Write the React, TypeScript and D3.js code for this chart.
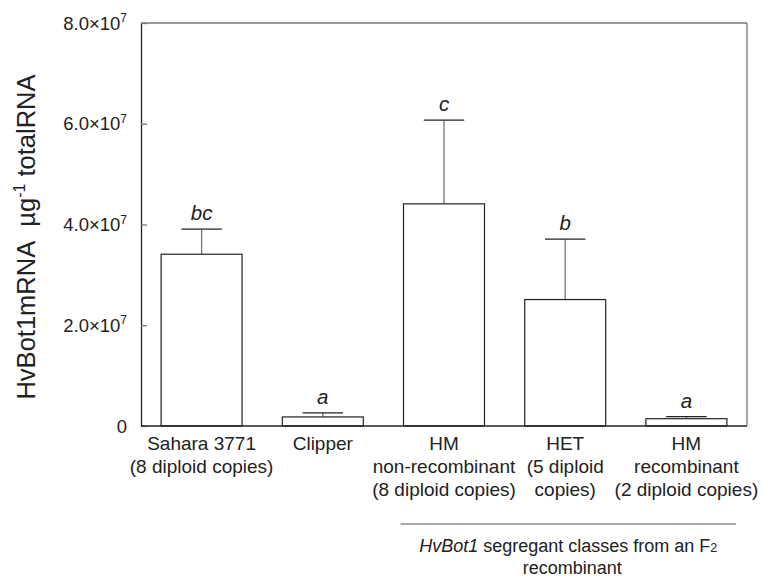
import React, { useRef, useEffect } from 'react';
import * as d3 from 'd3';

const categories = ['Sahara 3771', 'Clipper', 'HM non-recombinant', 'HET', 'HM recombinant'];
const labelLines = [
    ['Sahara 3771', '(8 diploid copies)'],
    ['Clipper'],
    ['HM', 'non-recombinant', '(8 diploid copies)'],
    ['HET', '(5 diploid', 'copies)'],
    ['HM', 'recombinant', '(2 diploid copies)'],
];
const means = [3.41e7, 0.18e7, 4.41e7, 2.51e7, 0.145e7];
const errors = [0.5e7, 0.08e7, 1.66e7, 1.2e7, 0.04e7];
const groups = ['bc', 'a', 'c', 'b', 'a'];
const yTicks = [0, 2e7, 4e7, 6e7, 8e7];

const font = 'Liberation Sans, Arial, Helvetica, sans-serif';

const App = () => {
    const svgRef = useRef(null);

    useEffect(() => {
        const svg = d3.select(svgRef.current);
        svg.selectAll('*').remove();
        const width = 764;
        const height = 577;
        const margin = { top: 23, right: 17, bottom: 151, left: 141 };
        const y0 = height - margin.bottom;

        svg.attr('viewBox', [0, 0, width, height]).attr('width', width).attr('height', height);

        const x = d3.scaleBand()
            .domain(categories)
            .range([margin.left, width - margin.right])
            .paddingInner(0.332)
            .paddingOuter(0.166);

        const y = d3.scaleLinear()
            .domain([0, 8e7])
            .range([y0, margin.top]);

        // frame
        svg.append('line').attr('x1', margin.left).attr('x2', width - margin.right)
            .attr('y1', margin.top).attr('y2', margin.top)
            .attr('stroke', '#777').attr('stroke-width', 1.3);
        svg.append('line').attr('x1', width - margin.right).attr('x2', width - margin.right)
            .attr('y1', margin.top).attr('y2', y0)
            .attr('stroke', '#777').attr('stroke-width', 1.3);

        // error bars
        const eb = svg.append('g');
        categories.forEach((c, i) => {
            const cx = x(c) + x.bandwidth() / 2;
            const top = y(means[i] + errors[i]);
            eb.append('line').attr('x1', cx).attr('x2', cx)
                .attr('y1', y(means[i])).attr('y2', top)
                .attr('stroke', '#777').attr('stroke-width', 1.3);
            eb.append('line').attr('x1', cx - x.bandwidth() / 4).attr('x2', cx + x.bandwidth() / 4)
                .attr('y1', top).attr('y2', top)
                .attr('stroke', '#222').attr('stroke-width', 1.3);
            eb.append('text').attr('x', cx).attr('y', top - 9)
                .attr('text-anchor', 'middle')
                .attr('font-family', font).attr('font-style', 'italic').attr('font-size', 20.5)
                .attr('fill', '#222')
                .text(groups[i]);
        });

        // bars
        svg.append('g')
            .selectAll('rect')
            .data(categories)
            .join('rect')
            .attr('x', d => x(d))
            .attr('y', (d, i) => y(means[i]))
            .attr('width', x.bandwidth())
            .attr('height', (d, i) => y0 - y(means[i]))
            .attr('fill', 'white')
            .attr('stroke', '#222')
            .attr('stroke-width', 1.2);

        // left axis
        const yAxis = svg.append('g').attr('transform', `translate(${margin.left},0)`)
            .call(d3.axisLeft(y).tickValues(yTicks).tickSizeInner(-6).tickSizeOuter(0).tickFormat(() => ''));
        yAxis.select('.domain').attr('stroke', '#222').attr('stroke-width', 1.3);
        yAxis.selectAll('.tick line').attr('stroke', '#777').attr('stroke-width', 1.3);

        const tl = svg.append('g')
            .attr('font-family', font).attr('font-size', 18.5).attr('fill', '#222');
        yTicks.forEach(t => {
            const txt = tl.append('text').attr('x', 127).attr('y', y(t) + 6.5).attr('text-anchor', 'end');
            if (t === 0) {
                txt.text('0');
            } else {
                txt.append('tspan').text(`${(t / 1e7).toFixed(1)}×10`);
                txt.append('tspan').attr('dy', -7.5).attr('font-size', 12).text('7');
            }
        });

        // bottom axis line
        svg.append('line').attr('x1', margin.left).attr('x2', width - margin.right)
            .attr('y1', y0).attr('y2', y0)
            .attr('stroke', '#222').attr('stroke-width', 1.5);

        // category labels
        const cl = svg.append('g')
            .attr('font-family', font).attr('font-size', 19).attr('fill', '#222')
            .attr('text-anchor', 'middle');
        categories.forEach((c, i) => {
            labelLines[i].forEach((line, j) => {
                cl.append('text')
                    .attr('x', x(c) + x.bandwidth() / 2)
                    .attr('y', y0 + 24 + j * 23)
                    .text(line);
            });
        });

        // group separator
        const gx1 = x(categories[2]) - 3;
        const gx2 = x(categories[4]) + x.bandwidth() + 9;
        svg.append('line').attr('x1', gx1).attr('x2', gx2)
            .attr('y1', 524).attr('y2', 524)
            .attr('stroke', '#555').attr('stroke-width', 1.2);
        const gt = svg.append('g')
            .attr('font-family', font).attr('font-size', 18).attr('fill', '#222')
            .attr('text-anchor', 'middle');
        const t1 = gt.append('text').attr('x', (gx1 + gx2) / 2).attr('y', 552);
        t1.append('tspan').attr('font-style', 'italic').text('HvBot1');
        t1.append('tspan').text(' segregant classes from an F');
        t1.append('tspan').attr('font-size', 12.5).text('2');
        gt.append('text').attr('x', (gx1 + gx2) / 2 + 4).attr('y', 574).text('recombinant');

        // y title
        const yt = svg.append('text')
            .attr('transform', `translate(35,237) rotate(-90)`)
            .attr('text-anchor', 'middle')
            .attr('font-family', font).attr('font-size', 25.5).attr('fill', '#222');
        yt.append('tspan').text('HvBot1mRNA\u00a0\u00a0µg');
        yt.append('tspan').attr('dy', -10).attr('font-size', 16).text('-1');
        yt.append('tspan').attr('dy', 10).text(' totalRNA');
    }, []);

    return <svg ref={svgRef} style={{ position: 'absolute', left: 0, top: 0, background: 'white' }}></svg>;
};

export default App;
